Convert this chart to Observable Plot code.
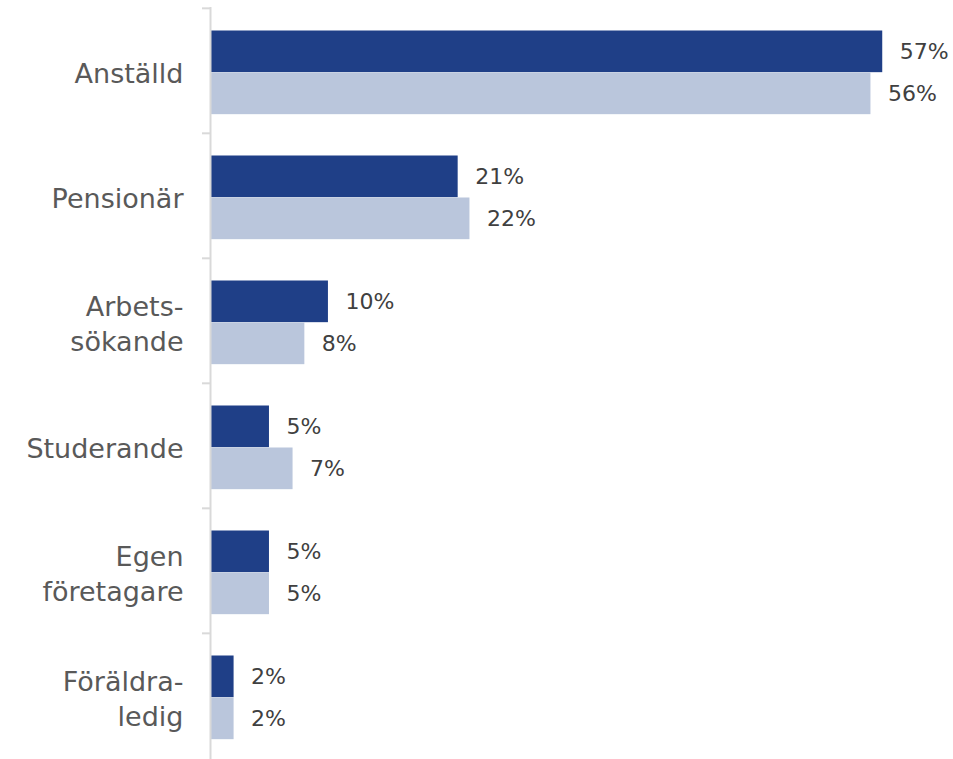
<!DOCTYPE html>
<html>
<head>
<meta charset="utf-8">
<script src="https://cdn.jsdelivr.net/npm/d3@7"></script>
<script src="https://cdn.jsdelivr.net/npm/@observablehq/plot@0.6"></script>
<style>
  html, body { margin: 0; padding: 0; background: #fff; }
  #chart svg { display: block; }
</style>
</head>
<body>
<div id="chart"></div>
<script>
const categories = ["Anställd", "Pensionär", "Arbets-\nsökande", "Studerande", "Egen\nföretagare", "Föräldra-\nledig"];
const seriesNames = ["Serie 1", "Serie 2"];
const values1 = [57, 21, 10, 5, 5, 2];
const values2 = [56, 22, 8, 7, 5, 2];
const valueLabels1 = ["57%", "21%", "10%", "5%", "5%", "2%"];
const valueLabels2 = ["56%", "22%", "8%", "7%", "5%", "2%"];

const rows = [];
categories.forEach((c, i) => {
  rows.push({cat: c, series: seriesNames[0], value: values1[i], label: valueLabels1[i]});
  rows.push({cat: c, series: seriesNames[1], value: values2[i], label: valueLabels2[i]});
});
const s1 = rows.filter(d => d.series === seriesNames[0]);
const s2 = rows.filter(d => d.series === seriesNames[1]);

const W = 953, H = 759;
const mt = 7, mb = 0;
const band = (H - mt - mb) / categories.length;

const chart = Plot.plot({
  width: W,
  height: H,
  marginLeft: 210,
  marginRight: 0,
  marginTop: mt,
  marginBottom: mb,
  style: {fontFamily: "DejaVu Sans", background: "#fff"},
  x: {domain: [0, 63], axis: null},
  y: {domain: categories, padding: 0, axis: null},
  marks: [
    Plot.barX(s1, {y: "cat", x: "value", fill: "#1F3F87", insetTop: 22.5, insetBottom: band - 64.5}),
    Plot.barX(s2, {y: "cat", x: "value", fill: "#BAC6DC", insetTop: 64.5, insetBottom: band - 106.5}),
    Plot.ruleX([0], {stroke: "#D9D9D9", strokeWidth: 2}),
    Plot.ruleY(categories, {y: d => d, dy: -band / 2, x1: 0, x2: 0, insetLeft: -8, stroke: "#D9D9D9", strokeWidth: 2}),
    Plot.text(s1, {y: "cat", x: "value", text: "label", dx: 17, dy: -19, textAnchor: "start", fontSize: 22, fill: "#404040"}),
    Plot.text(s2, {y: "cat", x: "value", text: "label", dx: 17, dy: 23, textAnchor: "start", fontSize: 22, fill: "#404040"}),
    Plot.text(categories, {y: d => d, text: d => d, frameAnchor: "left", dx: -27, dy: 1, textAnchor: "end", fontSize: 27, lineHeight: 1.3, fill: "#595959"})
  ]
});
document.getElementById("chart").appendChild(chart);
</script>
</body>
</html>
